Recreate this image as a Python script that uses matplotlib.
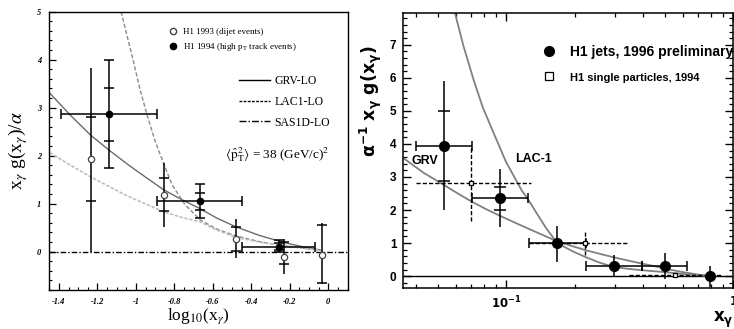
import matplotlib
matplotlib.use("Agg")
import matplotlib.pyplot as plt
from matplotlib.lines import Line2D
from matplotlib.ticker import MultipleLocator, FixedLocator, FixedFormatter, NullFormatter

# ---- левая панель: log10(x_gamma) ----
# H1 1993 (dijet events) - открытые кружки
x93 = [-1.232, -0.856, -0.482, -0.230, -0.035]
y93 = [1.93, 1.19, 0.265, -0.12, -0.07]
tot_lo93 = [0.0, 0.52, -0.14, -0.47, -0.68]
tot_hi93 = [3.82, 1.84, 0.68, 0.26, 0.59]
stat_lo93 = [1.05, 0.85, 0.01, -0.26, -0.66]
stat_hi93 = [2.80, 1.53, 0.52, 0.21, 0.55]

# H1 1994 (high pT track events) - закрашенные кружки
x94 = [-1.141, -0.669, -0.257]
y94 = [2.86, 1.06, 0.10]
xlo94 = [-1.391, -0.890, -0.446]
xhi94 = [-0.890, -0.446, -0.069]
tot_lo94 = [1.75, 0.70, 0.0]
tot_hi94 = [4.00, 1.40, 0.24]
stat_lo94 = [2.31, 0.87, 0.03]
stat_hi94 = [3.42, 1.22, 0.18]

# теоретические кривые
grv_lx = [-1.447, -1.34, -1.236, -1.141, -1.04, -0.942, -0.856, -0.76, -0.669,
          -0.58, -0.482, -0.36, -0.232, -0.13, -0.043]
grv_ly = [3.30, 2.84, 2.43, 2.12, 1.81, 1.53, 1.29, 1.08, 0.90,
          0.70, 0.52, 0.34, 0.19, 0.10, 0.035]
lac_lx = [-1.077, -1.045, -1.015, -0.98, -0.942, -0.90, -0.856, -0.812, -0.743,
          -0.665, -0.58, -0.482, -0.36, -0.232, -0.13, -0.040]
lac_ly = [5.00, 4.48, 4.00, 3.40, 2.85, 2.30, 1.84, 1.39, 0.97,
          0.66, 0.47, 0.33, 0.21, 0.12, 0.07, 0.03]
sas_lx = [-1.447, -1.34, -1.236, -1.05, -0.856, -0.76, -0.665, -0.58, -0.482,
          -0.36, -0.232, -0.13, -0.043]
sas_ly = [2.06, 1.80, 1.56, 1.17, 0.83, 0.71, 0.62, 0.45, 0.30,
          0.20, 0.13, 0.07, 0.03]

xticks_l = [-1.4, -1.2, -1.0, -0.8, -0.6, -0.4, -0.2, 0.0]
xtick_labels_l = ["-1.4", "-1.2", "-1", "-0.8", "-0.6", "-0.4", "-0.2", "0"]

# ---- правая панель: x_gamma ----
# H1 jets, 1996 preliminary
xj = [0.0535, 0.0944, 0.168, 0.297, 0.498, 0.787]
yj = [3.95, 2.35, 1.00, 0.31, 0.31, 0.0]
xj_lo = [0.0402, 0.0706, 0.1266, 0.224, 0.396, 0.787]
xj_hi = [0.0711, 0.1254, 0.224, 0.396, 0.625, 0.787]
yj_lo = [2.00, 1.49, 0.43, 0.0, -0.09, -0.34]
yj_hi = [5.89, 3.23, 1.52, 0.64, 0.71, 0.31]
# внутренние риски (стат. ошибки) у первых двух точек
xj_st = [0.0535, 0.0944]
yj_st = [3.95, 2.35]
yj_st_lo = [2.89, 2.00]
yj_st_hi = [5.01, 2.70]

# H1 single particles, 1994
xs = [0.0703, 0.223, 0.555]
ys = [2.81, 1.01, 0.03]
xs_lo = [0.040, 0.1266, 0.346]
xs_hi = [0.129, 0.346, 0.880]
ys_lo = [1.68, 0.64, 0.03]
ys_hi = [3.95, 1.40, 0.03]

grv_rx = [0.0353, 0.0435, 0.0535, 0.062, 0.0703, 0.082, 0.0944, 0.115, 0.14, 0.168,
          0.195, 0.223, 0.26, 0.297, 0.345, 0.396, 0.45, 0.498, 0.58, 0.68, 0.787]
grv_ry = [3.57, 3.12, 2.75, 2.48, 2.26, 2.02, 1.82, 1.55, 1.29, 1.05,
          0.91, 0.79, 0.67, 0.57, 0.47, 0.38, 0.30, 0.23, 0.14, 0.06, 0.0]
lac_rx = [0.0596, 0.065, 0.072, 0.079, 0.087, 0.100, 0.117, 0.125, 0.135, 0.150, 0.168,
          0.195, 0.223, 0.26, 0.297, 0.345, 0.396, 0.498, 0.62, 0.787]
lac_ry = [7.95, 6.95, 5.93, 5.10, 4.42, 3.45, 2.60, 2.32, 1.95, 1.45, 1.00,
          0.76, 0.58, 0.40, 0.28, 0.22, 0.18, 0.12, 0.06, 0.0]


def asym(y, lo, hi):
    return [[a - b for a, b in zip(y, lo)], [b - a for a, b in zip(y, hi)]]


fig = plt.figure(figsize=(7.34, 3.29), dpi=100)

# ================= левая панель =================
serif = "Liberation Serif"
ax1 = fig.add_axes([0.0672, 0.1185, 0.4063, 0.846])

ax1.plot(grv_lx, grv_ly, color="#6a6a6a", lw=1.0)
ax1.plot(lac_lx, lac_ly, color="#8a8a8a", lw=1.0, ls=(0, (3, 1.5)))
ax1.plot(sas_lx, sas_ly, color="#bdbdbd", lw=1.2, ls=(0, (2, 1)))
ax1.axhline(0, color="black", lw=1.0, ls=(0, (4, 1.5, 1, 1.5)))

# полные ошибки
ax1.errorbar(x93, y93, yerr=asym(y93, tot_lo93, tot_hi93), fmt="none",
             ecolor="black", elinewidth=1.1, capsize=0)
ax1.errorbar(x94, y94, yerr=asym(y94, tot_lo94, tot_hi94),
             xerr=asym(x94, xlo94, xhi94), fmt="none",
             ecolor="black", elinewidth=1.1, capsize=3.5, capthick=1.1)
# статистические риски
ax1.errorbar(x93, y93, yerr=asym(y93, stat_lo93, stat_hi93), fmt="none",
             ecolor="black", elinewidth=0, capsize=3.5, capthick=1.1)
ax1.errorbar(x94, y94, yerr=asym(y94, stat_lo94, stat_hi94), fmt="none",
             ecolor="black", elinewidth=0, capsize=3.5, capthick=1.1)
ax1.plot(x93, y93, "o", mfc="white", mec="#444444", ms=4.5, mew=0.9, zorder=5)
ax1.plot(x94, y94, "o", color="black", ms=4.5, zorder=5)

ax1.set_xlim(-1.45, 0.1)
ax1.set_ylim(-0.8, 5)
ax1.xaxis.set_major_locator(FixedLocator(xticks_l))
ax1.xaxis.set_major_formatter(FixedFormatter(xtick_labels_l))
ax1.xaxis.set_minor_locator(MultipleLocator(0.05))
ax1.yaxis.set_major_locator(FixedLocator([0, 1, 2, 3, 4, 5]))
ax1.yaxis.set_minor_locator(MultipleLocator(0.2))
ax1.tick_params(which="both", direction="in", top=False, right=False)
ax1.tick_params(which="major", length=5, width=0.9, pad=6)
ax1.tick_params(which="minor", length=2.5, width=0.8)
for lab in ax1.get_xticklabels() + ax1.get_yticklabels():
    lab.set_fontfamily(serif)
    lab.set_fontstyle("italic")
    lab.set_fontweight("bold")
    lab.set_fontsize(6)
for s in ax1.spines.values():
    s.set_linewidth(1.0)

ax1.set_xlabel(r"log$_{10}$(x$_{\gamma}$)", fontfamily=serif, fontsize=12.5,
               math_fontfamily="stix", labelpad=0)
ax1.set_ylabel(r"x$_{\gamma}$ g(x$_{\gamma}$)/$\alpha$", fontfamily=serif,
               fontsize=14, math_fontfamily="stix", labelpad=5)

leg_m = ax1.legend(
    [Line2D([], [], marker="o", ls="none", mfc="white", mec="#444444", ms=4.5),
     Line2D([], [], marker="o", ls="none", color="black", ms=4.5)],
    ["H1 1993 (dijet events)", r"H1 1994 (high p$_{\rm T}$ track events)"],
    loc="upper left", bbox_to_anchor=(0.385, 0.955), frameon=False,
    prop={"family": serif, "size": 6.5}, handlelength=1.2, handletextpad=0.5,
    labelspacing=0.55, borderaxespad=0)
for t in leg_m.get_texts():
    t.set_math_fontfamily("stix")
ax1.add_artist(leg_m)

ax1.legend(
    [Line2D([], [], color="black", lw=1.0),
     Line2D([], [], color="black", lw=1.0, ls=(0, (2, 1))),
     Line2D([], [], color="black", lw=1.0, ls=(0, (5, 1.5, 1, 1.5)))],
    ["GRV-LO", "LAC1-LO", "SAS1D-LO"],
    loc="upper left", bbox_to_anchor=(0.62, 0.79), frameon=False,
    prop={"family": serif, "size": 8.5}, handlelength=2.6, handletextpad=0.4,
    labelspacing=0.75, borderaxespad=0)

ax1.text(0.59, 0.485, r"$\langle\hat{\mathrm{p}}_{\mathrm{T}}^{2}\rangle$ = 38 (GeV/c)$^{2}$",
         transform=ax1.transAxes, fontfamily=serif, fontsize=9.5,
         math_fontfamily="stix", va="center", ha="left")

# ================= правая панель =================
sans = "Liberation Sans"
ax2 = fig.add_axes([0.5495, 0.1255, 0.4496, 0.834])

ax2.axhline(0, color="black", lw=1.0)
ax2.plot(grv_rx, grv_ry, color="#808080", lw=1.3)
ax2.plot(lac_rx, lac_ry, color="#808080", lw=1.3)

eb = ax2.errorbar(xs, ys, yerr=asym(ys, ys_lo, ys_hi), xerr=asym(xs, xs_lo, xs_hi),
                  fmt="none", ecolor="black", elinewidth=1.0, capsize=0)
for c in eb[2]:
    c.set_linestyle((0, (3, 1.5)))
ax2.errorbar(xj, yj, xerr=asym(xj, xj_lo, xj_hi), fmt="none", ecolor="black",
             elinewidth=1.1, capsize=3.5, capthick=1.1)
ax2.errorbar(xj, yj, yerr=asym(yj, yj_lo, yj_hi), fmt="none", ecolor="black",
             elinewidth=1.1, capsize=0)
ax2.errorbar(xj_st, yj_st, yerr=asym(yj_st, yj_st_lo, yj_st_hi), fmt="none",
             ecolor="black", elinewidth=0, capsize=4, capthick=1.1)
ax2.plot(xs, ys, "s", mfc="white", mec="black", ms=3.2, mew=0.9, zorder=5)
ax2.plot(xj, yj, "o", color="black", ms=7, zorder=5)

ax2.set_xscale("log")
ax2.set_xlim(0.0353, 1.0)
ax2.set_ylim(-0.35, 7.95)
ax2.xaxis.set_major_locator(FixedLocator([0.1, 1.0]))
ax2.xaxis.set_major_formatter(FixedFormatter([r"$\mathbf{10^{-1}}$", r"$\mathbf{1}$"]))
ax2.xaxis.set_minor_formatter(NullFormatter())
ax2.yaxis.set_major_locator(FixedLocator([0, 1, 2, 3, 4, 5, 6, 7]))
ax2.yaxis.set_minor_locator(MultipleLocator(0.2))
ax2.tick_params(which="both", direction="in", top=True, right=True)
ax2.tick_params(which="major", length=6, width=1.0, pad=5)
ax2.tick_params(which="minor", length=3, width=0.9)
for lab in ax2.get_xticklabels() + ax2.get_yticklabels():
    lab.set_fontfamily(sans)
    lab.set_fontweight("bold")
    lab.set_fontsize(8.5)
    lab.set_math_fontfamily("dejavusans")
for s in ax2.spines.values():
    s.set_linewidth(1.1)

ax2.set_xlabel(r"$\mathbf{x_{\gamma}}$", fontsize=12, loc="right", labelpad=-1,
               math_fontfamily="dejavusans")
ax2.set_ylabel(r"$\mathbf{\alpha^{-1}\ x_{\gamma}\ g(x_{\gamma})}$", fontsize=12.5,
               math_fontfamily="dejavusans")
ax2.yaxis.set_label_coords(-0.06, 0.68)

ax2.legend(
    [Line2D([], [], marker="o", ls="none", color="black", ms=7),
     Line2D([], [], marker="s", ls="none", mfc="white", mec="black", ms=6, mew=0.9)],
    ["H1 jets, 1996 preliminary", "H1 single particles, 1994"],
    loc="upper left", bbox_to_anchor=(0.405, 0.905), frameon=False,
    handlelength=1.0, handletextpad=1.0, labelspacing=0.9, borderaxespad=0,
    prop={"family": sans, "weight": "bold", "size": 10})
leg2 = ax2.get_legend()
leg2.get_texts()[1].set_fontsize(8)

ax2.text(0.024, 0.463, "GRV", transform=ax2.transAxes, fontfamily=sans,
         fontweight="bold", fontsize=9, va="center", ha="left")
ax2.text(0.338, 0.468, "LAC-1", transform=ax2.transAxes, fontfamily=sans,
         fontweight="bold", fontsize=9, va="center", ha="left")

fig.savefig("out.png", dpi=100)
